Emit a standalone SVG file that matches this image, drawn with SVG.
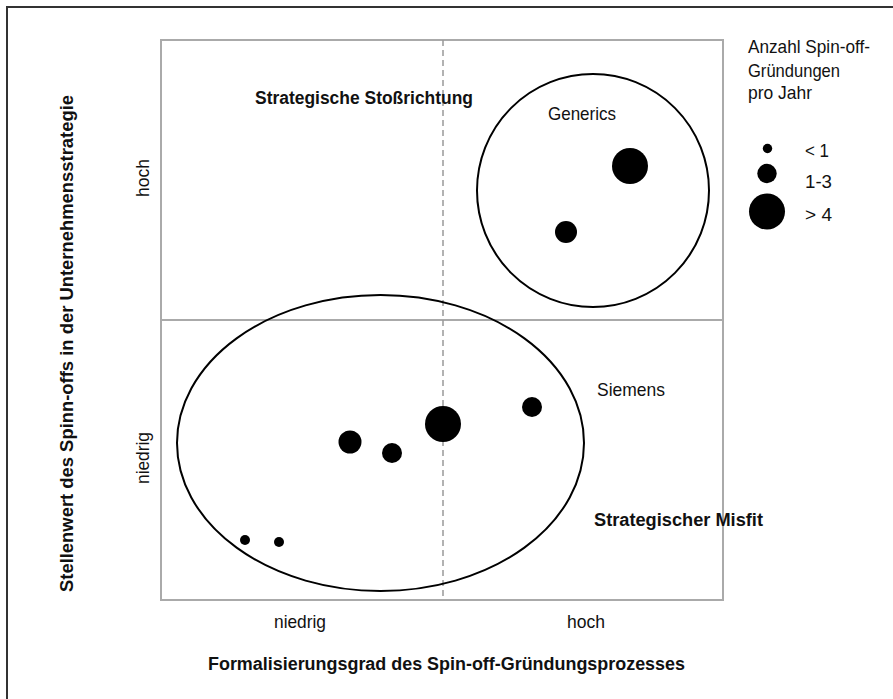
<svg xmlns="http://www.w3.org/2000/svg" width="893" height="699" viewBox="0 0 893 699">
<style>
text{font-family:"Liberation Sans Narrow","Liberation Sans",Arial,sans-serif;fill:#111}
.n{font-size:18.5px}
.b{font-size:18px;font-weight:bold}
.grid{fill:none;stroke:#aaa;stroke-width:2}
.dash{stroke:#999;stroke-width:1.5;stroke-dasharray:6 4}
.ring{fill:none;stroke:#000;stroke-width:2}
.dot{fill:#000}
</style>
<rect width="893" height="699" fill="#fff"/>
<path d="M7,699 V7 H893" fill="none" stroke="#333" stroke-width="2"/>
<g id="grid">
<rect class="grid" x="161" y="40" width="562" height="560"/>
<line class="grid" x1="161" y1="320" x2="723" y2="320"/>
<line class="dash" x1="443" y1="40" x2="443" y2="600"/>
</g>
<g id="axis-labels">
<text class="b" x="208" y="670" textLength="477" lengthAdjust="spacingAndGlyphs">Formalisierungsgrad des Spin-off-Gründungsprozesses</text>
<text class="n" x="274" y="628" textLength="52" lengthAdjust="spacingAndGlyphs">niedrig</text>
<text class="n" x="567" y="628" textLength="38" lengthAdjust="spacingAndGlyphs">hoch</text>
<text class="b" transform="translate(73,592) rotate(-90)" x="0" y="0" textLength="497" lengthAdjust="spacingAndGlyphs">Stellenwert des Spinn-offs in der Unternehmensstrategie</text>
<text class="n" transform="translate(149,197) rotate(-90)" x="0" y="0" textLength="38" lengthAdjust="spacingAndGlyphs">hoch</text>
<text class="n" transform="translate(149,484) rotate(-90)" x="0" y="0" textLength="52" lengthAdjust="spacingAndGlyphs">niedrig</text>
</g>
<g id="quadrant-labels">
<text class="b" x="255" y="104" textLength="218" lengthAdjust="spacingAndGlyphs">Strategische Stoßrichtung</text>
<text class="b" x="594" y="526" textLength="169" lengthAdjust="spacingAndGlyphs">Strategischer Misfit</text>
</g>
<g id="generics">
<ellipse class="ring" cx="593" cy="190.5" rx="116" ry="116.5"/>
<text class="n" x="548" y="120" textLength="68" lengthAdjust="spacingAndGlyphs">Generics</text>
<circle class="dot" cx="630" cy="166" r="18"/>
<circle class="dot" cx="566" cy="232" r="11"/>
</g>
<g id="siemens">
<ellipse class="ring" cx="380.5" cy="443" rx="203.5" ry="148"/>
<text class="n" x="597" y="396" textLength="68" lengthAdjust="spacingAndGlyphs">Siemens</text>
<circle class="dot" cx="443" cy="424" r="18"/>
<circle class="dot" cx="532" cy="407" r="10"/>
<circle class="dot" cx="350" cy="442" r="11.5"/>
<circle class="dot" cx="392" cy="453" r="10"/>
<circle class="dot" cx="245" cy="540" r="5"/>
<circle class="dot" cx="279" cy="542" r="5"/>
</g>
<g id="legend">
<text class="n" x="748" y="53" textLength="122" lengthAdjust="spacingAndGlyphs">Anzahl Spin-off-</text>
<text class="n" x="748" y="77" textLength="92" lengthAdjust="spacingAndGlyphs">Gründungen</text>
<text class="n" x="748" y="99" textLength="64" lengthAdjust="spacingAndGlyphs">pro Jahr</text>
<circle class="dot" cx="767.5" cy="148.5" r="4.7"/>
<circle class="dot" cx="767" cy="173.5" r="9.7"/>
<circle class="dot" cx="767" cy="211.5" r="18"/>
<text class="n" x="805" y="157" textLength="24" lengthAdjust="spacingAndGlyphs">&lt; 1</text>
<text class="n" x="805" y="188" textLength="27" lengthAdjust="spacingAndGlyphs">1-3</text>
<text class="n" x="805" y="221" textLength="27" lengthAdjust="spacingAndGlyphs">&gt; 4</text>
</g>
</svg>
